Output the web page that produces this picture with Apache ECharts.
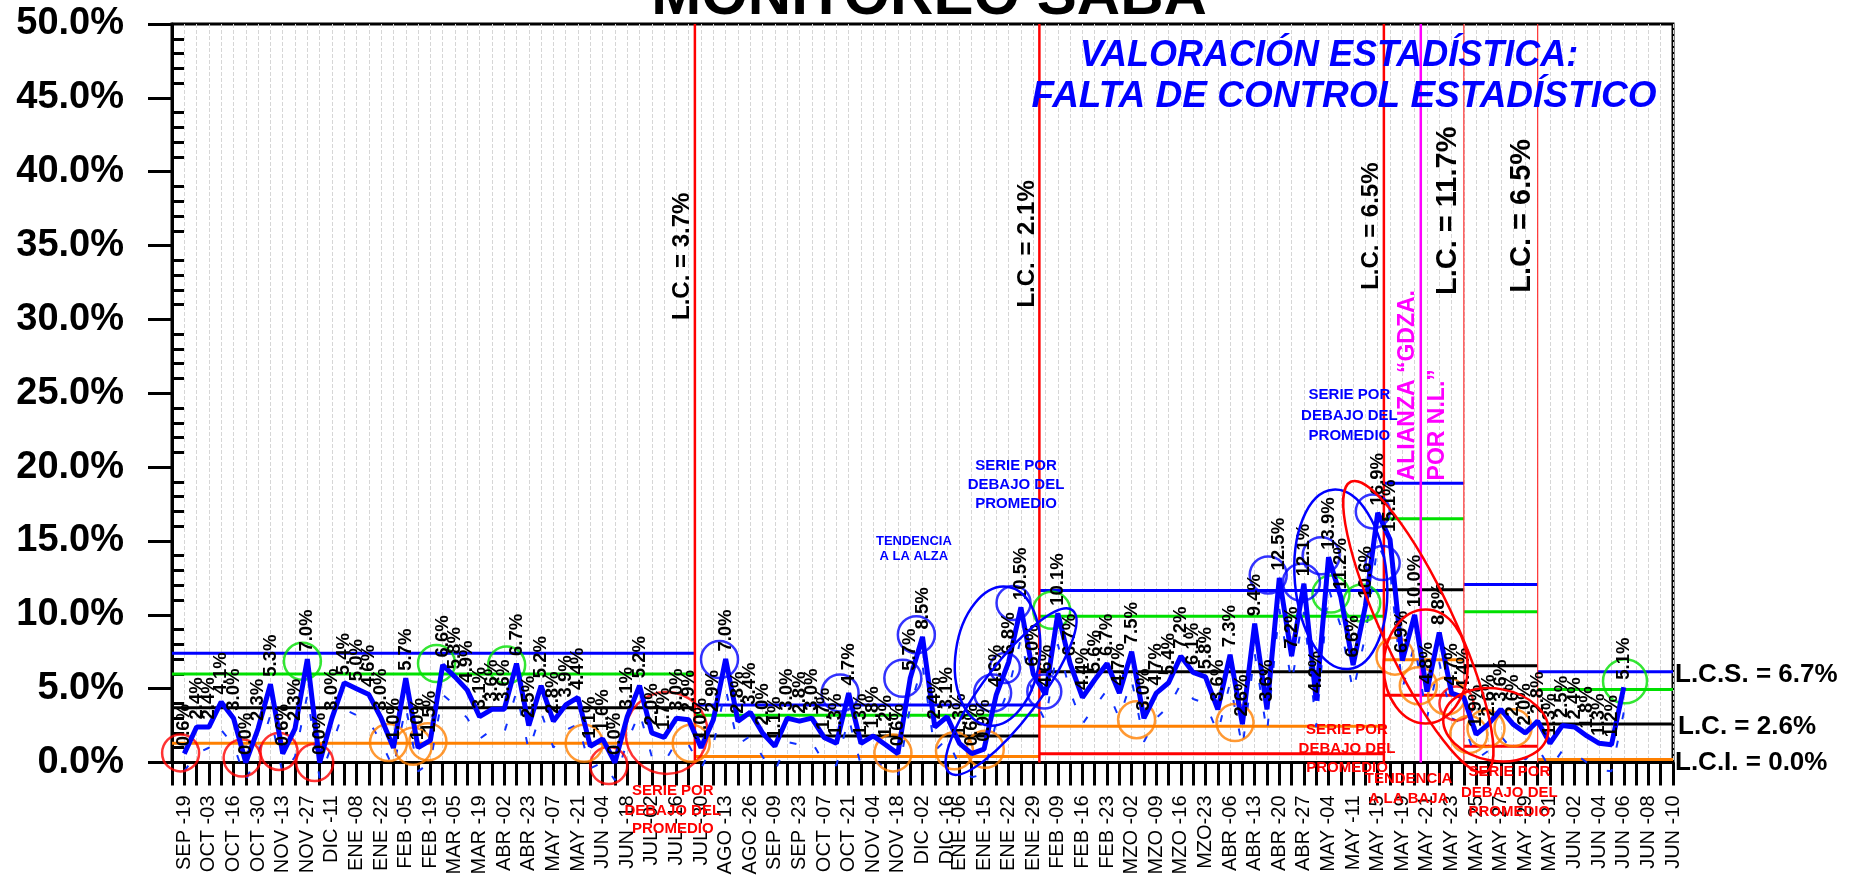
<!DOCTYPE html>
<html><head><meta charset="utf-8">
<script src="https://cdn.jsdelivr.net/npm/echarts@6/dist/echarts.min.js"></script>
<style>html,body{margin:0;padding:0;background:#fff}#c{width:1856px;height:877px}</style>
</head><body><div id="c"></div>
<script>
// ---- categories (cat 0 is an empty slot at the y axis) ----
const categories = ['',
'SEP -19','','OCT -03','','OCT -16','','OCT -30','','NOV -13','',
'NOV -27','','DIC -11','','ENE -08','','ENE -22','','FEB -05','',
'FEB -19','','MAR -05','','MAR -19','','ABR -02','','ABR -23','',
'MAY -07','','MAY -21','','JUN -04','','JUN -18','','JUL -02','',
'JUL -16','','JUL -30','','AGO -13','','AGO -26','','SEP -09','',
'SEP -23','','OCT -07','','OCT -21','','NOV -04','','NOV -18','',
'DIC -02','','DIC -16','ENE -06','','ENE -15','','ENE -22','','ENE -29',
'','FEB -09','','FEB -16','','FEB -23','','MZO -02','','MZO -09',
'','MZO -16','','MZO-23','','ABR -06','','ABR -13','','ABR -20',
'','ABR -27','','MAY -04','','MAY -11','','MAY -15','','MAY -19',
'','MAY -21','','MAY -23','','MAY -25','','MAY -27','','MAY -29',
'','MAY -31','','JUN -02','','JUN -04','','JUN -06','','JUN -08',
'','JUN -10'];

// ---- main series (%), one value per slot starting at SEP -19 ----
const saba = [
0.6, 2.4, 2.4, 4.1, 3.0, 0.0, 2.3, 5.3, 0.6, 2.3,
7.0, 0.0, 3.0, 5.4, 5.0, 4.6, 3.0, 1.0, 5.7, 1.0,
1.5, 6.6, 5.8, 4.9, 3.1, 3.6, 3.6, 6.7, 2.5, 5.2,
2.8, 3.9, 4.4, 1.1, 1.6, 0.0, 3.1, 5.2, 2.0, 1.7,
3.0, 2.9, 1.0, 2.9, 7.0, 2.8, 3.4, 2.0, 1.1, 3.0,
2.8, 3.0, 1.7, 1.3, 4.7, 1.3, 1.8, 1.2, 0.6, 5.7,
8.5, 2.4, 3.1, 1.3, 0.6, 0.9, 4.6, 6.8, 10.5, 6.0,
4.6, 10.1, 6.7, 4.4, 5.6, 6.7, 4.7, 7.5, 3.0, 4.7,
5.4, 7.2, 6.1, 5.8, 3.6, 7.3, 2.6, 9.4, 3.6, 12.5,
7.2, 12.1, 4.2, 13.9, 11.2, 6.6, 10.6, 16.9, 15.1, 6.9,
10.0, 4.8, 8.8, 4.7, 4.4, 1.9, 2.6, 3.6, 2.6, 2.0,
2.8, 1.3, 2.5, 2.4, 1.8, 1.3, 1.2, 5.1];

// ---- thin dashed companion series (%) ----
const sabaDashed = [
-0.6, 0.6, 1.0, 2.2, 1.2, -1.2, 0.6, 3.2, -0.8, 0.4,
4.6, -1.1, 1.2, 3.6, 3.2, 2.8, 1.4, -0.4, 3.8, -0.6,
0.0, 4.6, 3.9, 3.0, 1.6, 2.2, 2.0, 4.8, 0.8, 3.4,
1.0, 2.2, 2.6, -0.4, 0.0, -1.2, 1.4, 3.4, 0.4, 0.0,
1.4, 1.2, -0.4, 1.2, 5.0, 1.2, 1.8, 0.4, -0.6, 1.4,
1.2, 1.4, 0.0, -0.2, 3.0, -0.2, 0.2, -0.4, -1.0, 3.8,
6.6, 0.8, 1.6, -0.2, -1.0, -0.8, 2.8, 5.0, 8.4, 4.4,
2.8, 8.0, 4.8, 2.6, 3.8, 4.9, 3.0, 5.6, 1.4, 3.0,
3.8, 5.3, 4.3, 4.0, 2.0, 5.4, 1.0, 7.4, 2.0, 10.4,
5.4, 10.2, 2.4, 11.8, 9.2, 4.8, 8.6, 14.8, 13.0, 5.0,
8.0, 3.0, 6.8, 3.0, 2.6, 0.2, 0.8, 1.8, 0.8, 0.2,
1.0, -0.4, 0.8, 0.6, 0.0, -0.5, -0.6, 3.4];

// ---- phase limits (x in category units) ----
const phaseBounds = [0, 42.5, 70.5, 98.5, 105, 111, 122];
const limBlue   = [7.4, 3.9, 11.65, 18.9, 12.05, 6.15];
const limGreen  = [6.0, 3.2, 9.9, 16.5, 10.2, 4.95];
const limBlack  = [3.7, 1.8, 6.15, 11.7, 6.55, 2.6];
const limOrange = [1.3, 0.4, 2.45, 6.95, null, 0.2];
const limRed    = [null, null, 0.6, 4.55, 1.1, null];
const redThick = [42.5, 70.5, 98.5];
const redThin = [105, 111];
const magentaAt = [101.5];

// ---- circle annotations [x(cat), y(%), size] ----
const circRed = [[0.7,0.65,37],[5.7,0.3,37],[8.7,0.75,37],[11.6,0.0,37],[35.5,-0.2,37],[40.2,2.0,82],[104.4,4.0,34]];
const circOrange = [[17.6,1.35,37],[19.6,1.1,37],[20.8,1.4,37],[33.5,1.3,37],[42.2,1.3,37],[58.6,0.65,37],[63.6,0.8,37],[66.1,0.9,37],[78.4,2.9,37],[86.4,2.7,37],[99.4,7.2,37],[101.3,5.2,37],[103.6,4.5,37],[105.4,1.9,37],[106.8,2.3,37],[109.0,2.35,37]];
const circGreen = [[10.6,6.85,37],[21.5,6.7,37],[27.2,6.6,37],[71.5,10.3,37],[94.2,11.4,37],[96.7,10.8,37],[118.1,5.5,44]];
const circBlue = [[44.5,6.97,37],[54.3,4.7,37],[59.4,5.7,37],[60.5,8.65,37],[66.7,4.7,37],[67.7,6.4,30],[68.4,10.8,34],[70.9,4.8,34],[89.1,12.7,37],[91.8,12.2,37],[93.4,14.0,37],[97.6,17.0,34],[98.4,13.5,34]];

const FONT = "'Liberation Sans', Arial, sans-serif";
const pad = n => Array(n).fill(null);

const series = [];
function seg(pts, color, width, z){
  series.push({type:'line', xAxisIndex:1, yAxisIndex:0, data:pts, symbol:'none', silent:true,
    lineStyle:{color:color, width:width}, z:z, animation:false});
}
for (let p = 0; p < 6; p++) {
  const a = phaseBounds[p], b = phaseBounds[p+1];
  if (limRed[p] != null) seg([[a,limRed[p]],[b,limRed[p]]], '#ff0000', 3, 3);
  if (limOrange[p] != null) seg([[a,limOrange[p]],[b,limOrange[p]]], '#ff8000', 3, 3);
  seg([[a,limBlack[p]],[b,limBlack[p]]], '#000000', 3, 3);
  seg([[a,limGreen[p]],[b,limGreen[p]]], '#00e000', 3, 3);
  seg([[a,limBlue[p]],[b,limBlue[p]]], '#0000ff', 3, 3);
}
redThick.forEach(x => seg([[x,0],[x,50]], '#ff0000', 2.5, 4));
redThin.forEach(x => seg([[x,0],[x,50]], '#ff3030', 1.2, 4));
magentaAt.forEach(x => seg([[x,0],[x,50]], '#ff00ff', 2.5, 4));

series.push({type:'line', xAxisIndex:0, yAxisIndex:0, data:[null].concat(sabaDashed, pad(4)),
  symbol:'none', clip:false, silent:true, z:6, animation:false,
  lineStyle:{color:'#1030ff', width:2, type:[7,22]}});

function circles(data, color){
  series.push({type:'scatter', xAxisIndex:1, yAxisIndex:0, data:data, symbol:'circle',
    symbolSize: v => v[2], clip:false, silent:true, z:8, animation:false,
    itemStyle:{color:'rgba(0,0,0,0)', borderColor:color, borderWidth:2.5}});
}
circles(circRed, '#ff0000');
circles(circOrange, '#ff8000');
circles(circGreen, '#00e000');
circles(circBlue, '#0000ff');

series.push({type:'line', xAxisIndex:0, yAxisIndex:0, data:[null].concat(saba, pad(4)),
  symbol:'circle', symbolSize:1, showSymbol:true, showAllSymbol:true, z:10, animation:false,
  itemStyle:{color:'#0000ff'}, lineStyle:{color:'#0000ff', width:5},
  label:{show:true, position:'top', rotate:90, align:'left', verticalAlign:'middle', distance:7,
    fontSize:18.5, fontWeight:'bold', color:'#000', fontFamily:FONT,
    formatter: p => (p.value == null ? '' : Number(p.value).toFixed(1) + '%')}});

const option = {
  animation:false,
  backgroundColor:'#ffffff',
  grid:{left:172, top:24, right:183, bottom:114.5, show:true, borderColor:'#000', borderWidth:3,
    backgroundColor:'rgba(0,0,0,0)', containLabel:false, outerBoundsMode:'none'},
  xAxis:[
    {type:'category', data:categories, boundaryGap:false,
     axisLine:{lineStyle:{color:'#000', width:3}},
     axisTick:{interval:0, length:23, lineStyle:{color:'#000', width:3}},
     axisLabel:{interval:0, rotate:90, fontSize:20, color:'#000', margin:33, fontFamily:FONT, hideOverlap:false},
     splitLine:{show:true, interval:0, lineStyle:{color:'#d6d6d6', type:'dashed', width:1}}},
    {type:'value', min:0, max:122, show:false}
  ],
  yAxis:[
    {type:'value', min:0, max:50, interval:5,
     axisLine:{show:true, lineStyle:{color:'#000', width:3}},
     axisTick:{show:true, length:24, lineStyle:{color:'#000', width:3}},
     axisLabel:{fontSize:38, fontWeight:'bold', color:'#000', margin:48, fontFamily:FONT,
       formatter: v => v.toFixed(1) + '%'},
     splitLine:{show:false}},
    {type:'value', min:0, max:50, interval:5, position:'left',
     axisLine:{show:false}, axisTick:{show:false, inside:true}, axisLabel:{show:false},
     minorTick:{show:true, splitNumber:5, length:12, lineStyle:{color:'#000', width:3}},
     splitLine:{show:false}}
  ],
  series:series
};

const chart = echarts.init(document.getElementById('c'));
chart.setOption(option);

function P(x, y){
  let r = null;
  try { r = chart.convertToPixel({xAxisIndex:1, yAxisIndex:0}, [x, y]); } catch(e) { r = null; }
  if (!r || isNaN(r[0])) r = [172 + x * (1501 / 122), 762.5 - y * (738.5 / 50)];
  return r;
}

const G = [];
function txt(x, y, text, font, fill, align, rot, vAlign){
  G.push({type:'text', x:x, y:y, rotation:rot || 0, z:100, silent:true,
    style:{text:text, font:font, fill:fill, textAlign:align || 'center', textVerticalAlign:vAlign || 'middle'}});
}
function dtxt(cx, cy, text, font, fill, align, rot){
  const p = P(cx, cy); txt(p[0], p[1], text, font, fill, align, rot);
}
function ell(cx, cy, rx, ry, rotDeg, color){
  const p = P(cx, cy);
  G.push({type:'ellipse', x:p[0], y:p[1], rotation:rotDeg * Math.PI / 180, z:90, silent:true,
    shape:{cx:0, cy:0, rx:rx, ry:ry}, style:{fill:'none', stroke:color, lineWidth:2.5}});
}

// title & headline
txt(929, -3, 'MONITOREO SABA', 'bold 60px ' + FONT, '#000');
txt(1329, 56, 'VALORACIÓN ESTADÍSTICA:', 'italic bold 36px ' + FONT, '#0000ff');
txt(1344, 97, 'FALTA DE CONTROL ESTADÍSTICO', 'italic bold 37px ' + FONT, '#0000ff');
// right limits
txt(1675, 675, 'L.C.S. = 6.7%', 'bold 26px ' + FONT, '#000', 'left');
txt(1678, 727, 'L.C. = 2.6%', 'bold 26px ' + FONT, '#000', 'left');
txt(1675, 763, 'L.C.I. = 0.0%', 'bold 26px ' + FONT, '#000', 'left');

// rotated phase labels
const R = Math.PI / 2;
dtxt(41.5, 29.96, 'L.C. = 3.7%', 'bold 24px ' + FONT, '#000', 'left', R);
dtxt(69.5, 30.8, 'L.C. = 2.1%', 'bold 24px ' + FONT, '#000', 'left', R);
dtxt(97.5, 32.0, 'L.C. = 6.5%', 'bold 24px ' + FONT, '#000', 'left', R);
dtxt(103.7, 31.65, 'L.C. = 11.7%', 'bold 29px ' + FONT, '#000', 'left', R);
dtxt(109.7, 31.8, 'L.C. = 6.5%', 'bold 29px ' + FONT, '#000', 'left', R);
dtxt(100.4, 19.1, 'ALIANZA \u201cGDZA.', 'bold 23px ' + FONT, '#ff00ff', 'left', R);
dtxt(102.9, 19.1, 'POR N.L.\u201d', 'bold 23px ' + FONT, '#ff00ff', 'left', R);

// blue notes
const fB = 'bold 15px ' + FONT, fS = 'bold 13px ' + FONT;
dtxt(60.3, 15.0, 'TENDENCIA', fS, '#0000ff');
dtxt(60.3, 13.97, 'A LA ALZA', fS, '#0000ff');
dtxt(68.6, 20.1, 'SERIE POR', fB, '#0000ff');
dtxt(68.6, 18.8, 'DEBAJO DEL', fB, '#0000ff');
dtxt(68.6, 17.5, 'PROMEDIO', fB, '#0000ff');
dtxt(95.7, 24.9, 'SERIE POR', fB, '#0000ff');
dtxt(95.7, 23.5, 'DEBAJO DEL', fB, '#0000ff');
dtxt(95.7, 22.1, 'PROMEDIO', fB, '#0000ff');
// red notes
dtxt(40.7, -1.9, 'SERIE POR', fB, '#ff0000');
dtxt(40.7, -3.3, 'DEBAJO DEL', fB, '#ff0000');
dtxt(40.7, -4.5, 'PROMEDIO', fB, '#ff0000');
dtxt(95.5, 2.18, 'SERIE POR', fB, '#ff0000');
dtxt(95.5, 0.89, 'DEBAJO DEL', fB, '#ff0000');
dtxt(95.5, -0.39, 'PROMEDIO', fB, '#ff0000');
dtxt(100.5, -1.12, 'TENDENCIA', fB, '#ff0000');
dtxt(100.5, -2.47, 'A LA BAJA', fB, '#ff0000');
dtxt(108.7, -0.63, 'SERIE POR', fB, '#ff0000');
dtxt(108.7, -2.06, 'DEBAJO DEL', fB, '#ff0000');
dtxt(108.7, -3.35, 'PROMEDIO', fB, '#ff0000');

// ellipses
ell(67.1, 7.2, 42, 70, -8, '#0000ff');
ell(68.2, 4.8, 102, 28, 53, '#0000ff');
ell(95.0, 12.4, 46, 90, 5, '#0000ff');
ell(101.3, 9.19, 160, 36, -65, '#ff0000');
ell(101.9, 6.5, 42, 57, 0, '#ff0000');
ell(107.6, 2.55, 53, 36, -10, '#ff0000');

chart.setOption({graphic:{elements:G}});
</script>
</body></html>
